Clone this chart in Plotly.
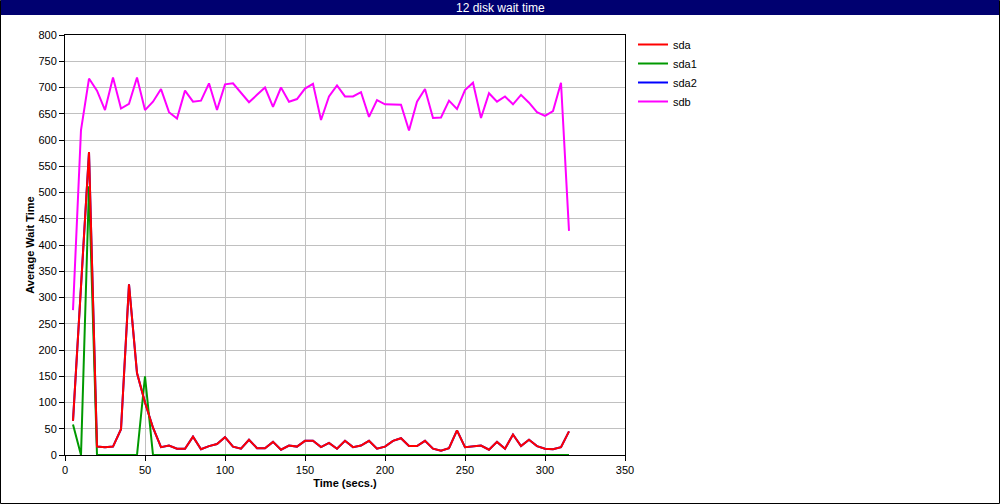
import plotly.graph_objects as go

time = [5, 10, 15, 20, 25, 30, 35, 40, 45, 50, 55, 60, 65, 70, 75, 80, 85, 90, 95, 100,
        105, 110, 115, 120, 125, 130, 135, 140, 145, 150, 155, 160, 165, 170, 175, 180,
        185, 190, 195, 200, 205, 210, 215, 220, 225, 230, 235, 240, 245, 250, 255, 260,
        265, 270, 275, 280, 285, 290, 295, 300, 305, 310, 315]

sda = [65, 320, 577, 16, 15, 16, 49, 325, 156, 100, 52, 15, 18, 12, 12, 35, 11, 17, 21, 34,
       16, 12, 29, 13, 13, 25, 10, 18, 16, 27, 27, 15, 23, 12, 27, 15,
       18, 27, 12, 16, 27, 32, 17, 17, 27, 12, 8, 13, 47, 15, 16, 18,
       10, 25, 12, 39, 17, 29, 17, 12, 11, 15, 45]

sda1 = [58, 0, 512, 0, 0, 0, 0, 0, 0, 150, 0, 0, 0, 0, 0, 0, 0, 0, 0, 0,
        0, 0, 0, 0, 0, 0, 0, 0, 0, 0, 0, 0, 0, 0, 0, 0,
        0, 0, 0, 0, 0, 0, 0, 0, 0, 0, 0, 0, 0, 0, 0, 0,
        0, 0, 0, 0, 0, 0, 0, 0, 0, 0, 0]

sda2 = list(sda)

sdb = [276, 619, 717, 694, 657, 719, 660, 669, 719, 657, 673, 697, 653, 641, 694, 673, 675, 708, 657, 706,
       708, 690, 672, 686, 700, 663, 700, 673, 678, 698, 707, 638, 683, 704, 683, 683,
       691, 644, 676, 668, 668, 667, 618, 673, 697, 642, 643, 675, 659, 695, 709, 642,
       689, 673, 683, 668, 686, 671, 653, 646, 655, 709, 427]

series = [("sda", sda, "#ff0000"), ("sda1", sda1, "#009900"),
          ("sda2", sda2, "#0000ff"), ("sdb", sdb, "#ff00ff")]

x_ticks = [0, 50, 100, 150, 200, 250, 300, 350]
y_ticks = list(range(0, 801, 50))

FONT = "Liberation Sans, Arial, sans-serif"

fig = go.Figure()
for name, vals, color in reversed(series):
    fig.add_trace(go.Scatter(x=time, y=vals, mode="lines", name=name,
                             line=dict(color=color, width=2), cliponaxis=False))

W, H = 1000, 504
L, R, T, B = 65, 625, 35, 455
pw, ph = R - L, B - T


def px_x(px):
    return (px - L) / pw


def px_y(py):
    return (B - py) / ph


fig.update_layout(
    width=W, height=H,
    margin=dict(l=L, r=W - R, t=T, b=H - B, pad=0),
    paper_bgcolor="white", plot_bgcolor="white",
    showlegend=True,
    legend=dict(x=px_x(633), y=px_y(30), xanchor="left", yanchor="top",
                traceorder="reversed", font=dict(family=FONT, size=11, color="black"),
                bgcolor="rgba(0,0,0,0)", itemwidth=30, tracegroupgap=0),
    xaxis=dict(range=[0, 350], tickvals=x_ticks, ticktext=[str(v) for v in x_ticks],
               showgrid=True, gridcolor="#c0c0c0", gridwidth=1,
               showline=True, linecolor="black", linewidth=1, mirror=True,
               ticks="outside", ticklen=5, tickcolor="black",
               tickfont=dict(family=FONT, size=11, color="black"),
               title=dict(text="<b>Time (secs.)</b>", font=dict(family=FONT, size=11, color="black"),
                          standoff=4),
               zeroline=False),
    yaxis=dict(range=[0, 800], tickvals=y_ticks, ticktext=[str(v) for v in y_ticks],
               showgrid=True, gridcolor="#c0c0c0", gridwidth=1,
               showline=True, linecolor="black", linewidth=1, mirror=True,
               ticks="outside", ticklen=5, tickcolor="black",
               tickfont=dict(family=FONT, size=11, color="black"),
               title=dict(text="<b>Average Wait Time</b>", font=dict(family=FONT, size=11, color="black"),
                          standoff=1),
               zeroline=False),
    shapes=[
        dict(type="rect", xref="paper", yref="paper",
             x0=px_x(0.5), x1=px_x(999.5), y0=px_y(503.5), y1=px_y(0.5),
             line=dict(color="black", width=1), fillcolor="rgba(0,0,0,0)", layer="below"),
        dict(type="rect", xref="paper", yref="paper",
             x0=px_x(1), x1=px_x(999), y0=px_y(15), y1=px_y(0),
             line=dict(width=0), fillcolor="#000070", layer="below"),
    ],
    annotations=[
        dict(text="12 disk wait time", xref="paper", yref="paper",
             x=px_x(500), y=px_y(7.5), xanchor="center", yanchor="middle",
             showarrow=False, font=dict(family=FONT, size=12, color="white")),
    ],
)

fig.write_html("out.html", config={"displayModeBar": False},
               post_script="document.body.style.margin='0px';")
